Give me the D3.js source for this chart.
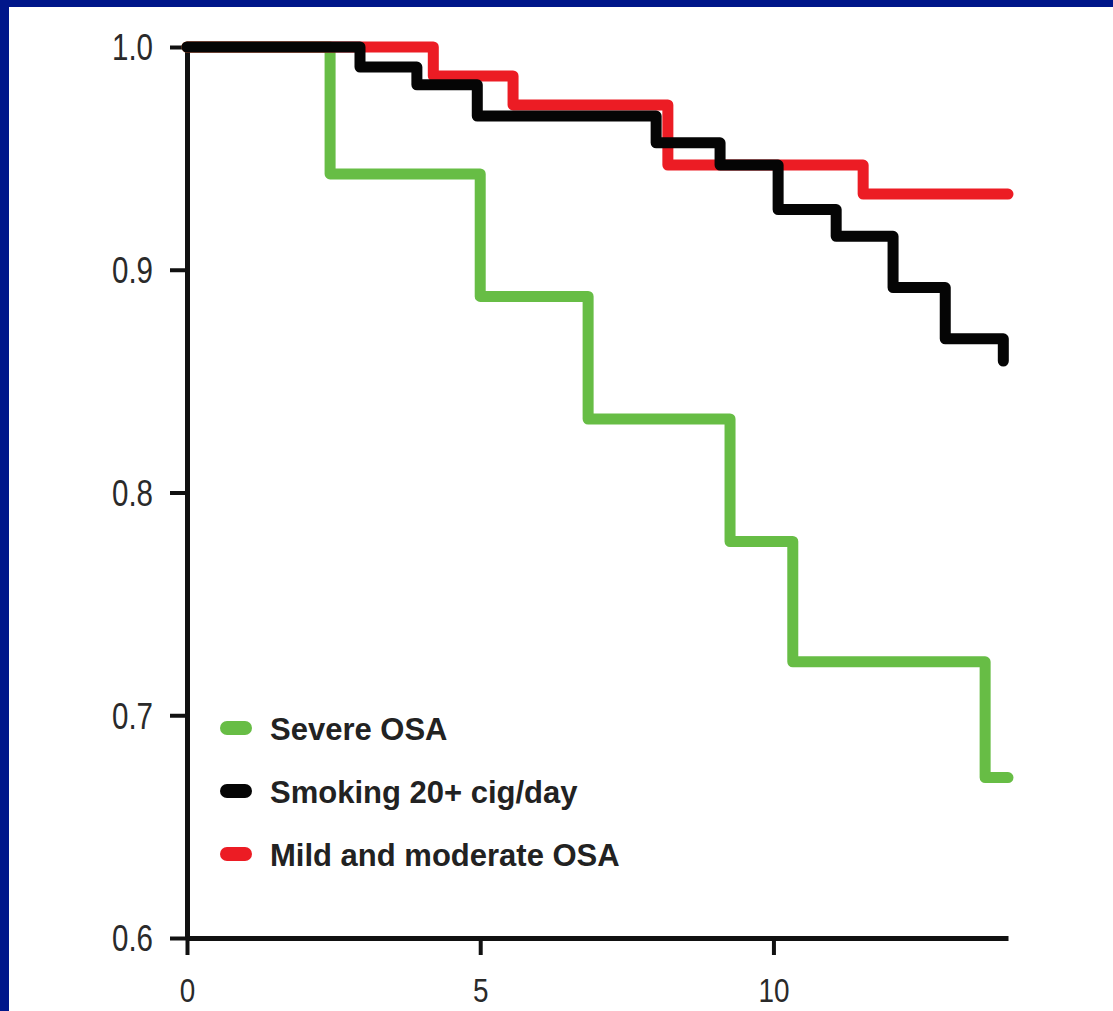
<!DOCTYPE html>
<html>
<head>
<meta charset="utf-8">
<script src="https://cdn.jsdelivr.net/npm/d3@7"></script>
<style>
  html, body { margin: 0; padding: 0; background: #fff; }
  #chart svg { display: block; }
</style>
</head>
<body>
<div id="chart"></div>
<script>
// survival data (years, survival proportion)
const severeTimes = [0, 2.44, 5.0, 6.84, 9.26, 10.33, 13.61, 14.0];
const severeSurv  = [1.0, 0.943, 0.888, 0.833, 0.778, 0.724, 0.672, 0.672];

const smokingTimes = [0, 2.95, 3.92, 4.95, 8.0, 9.09, 10.08, 11.07, 12.04, 12.93, 13.92];
const smokingSurv  = [1.0, 0.991, 0.983, 0.969, 0.957, 0.947, 0.927, 0.915, 0.892, 0.869, 0.859];

const mildTimes = [0, 4.2, 5.56, 8.2, 11.53, 14.0];
const mildSurv  = [1.0, 0.987, 0.974, 0.947, 0.934, 0.934];

const seriesNames = ["Severe OSA", "Smoking 20+ cig/day", "Mild and moderate OSA"];
const seriesColors = ["#67bd45", "#050505", "#ec1c24"];

const xTicks = [0, 5, 10];
const yTicks = [0.6, 0.7, 0.8, 0.9, 1.0];

const W = 1113, H = 1011;

const svg = d3.select("#chart")
  .append("svg")
  .attr("width", W)
  .attr("height", H);

// blue frame (top and left only are visible)
svg.append("rect").attr("x", 0).attr("y", 0).attr("width", W).attr("height", H).attr("fill", "#00168a");
svg.append("rect").attr("x", 9).attr("y", 7).attr("width", W - 9).attr("height", H - 7).attr("fill", "#fff");

const x = d3.scaleLinear().domain([0, 14]).range([187, 1008]);
const y = d3.scaleLinear().domain([0.6, 1.0]).range([938, 47]);

const tickFont = "'Liberation Sans', Arial, sans-serif";

// axes
const yAxisG = svg.append("g")
  .attr("transform", `translate(${x(0)},0)`)
  .call(d3.axisLeft(y).tickValues(yTicks).tickFormat(d3.format(".1f")).tickSize(17).tickSizeOuter(0).tickPadding(17));

const xAxisG = svg.append("g")
  .attr("transform", `translate(0,${y(0.6)})`)
  .call(d3.axisBottom(x).tickValues(xTicks).tickSize(17).tickSizeOuter(0).tickPadding(21));

[yAxisG, xAxisG].forEach(a => {
  a.select(".domain").attr("stroke", "#111").attr("stroke-width", 5);
  a.selectAll(".tick line").attr("stroke", "#111").attr("stroke-width", 4);
  a.selectAll(".tick text")
    .attr("fill", "#2a2a2a")
    .style("font-family", tickFont);
});
yAxisG.selectAll(".tick text").style("font-size", "36px").attr("dy", "0.36em");
xAxisG.selectAll(".tick text").style("font-size", "34px").attr("dy", "0.76em");

// squeeze tick labels to look like a narrow face
svg.selectAll(".tick text").each(function () {
  const w = this.getComputedTextLength();
  d3.select(this)
    .attr("textLength", w * 0.82)
    .attr("lengthAdjust", "spacingAndGlyphs");
});

// step curves
const line = d3.line()
  .x(d => x(d[0]))
  .y(d => y(d[1]))
  .curve(d3.curveStepAfter);

const series = [
  { name: seriesNames[0], color: seriesColors[0], pts: d3.zip(severeTimes, severeSurv) },
  { name: seriesNames[2], color: seriesColors[2], pts: d3.zip(mildTimes, mildSurv) },
  { name: seriesNames[1], color: seriesColors[1], pts: d3.zip(smokingTimes, smokingSurv) }
];

svg.append("g")
  .selectAll("path")
  .data(series)
  .join("path")
  .attr("d", d => line(d.pts))
  .attr("fill", "none")
  .attr("stroke", d => d.color)
  .attr("stroke-width", 11)
  .attr("stroke-linejoin", "round")
  .attr("stroke-linecap", "round");

// legend
const legend = svg.append("g").attr("transform", "translate(220,728)");
const rowGap = 63;

legend.selectAll("rect")
  .data(seriesNames)
  .join("rect")
  .attr("x", 0)
  .attr("y", (d, i) => i * rowGap - 7)
  .attr("width", 32)
  .attr("height", 14)
  .attr("rx", 7)
  .attr("fill", (d, i) => seriesColors[i]);

legend.selectAll("text")
  .data(seriesNames)
  .join("text")
  .attr("x", 50)
  .attr("y", (d, i) => i * rowGap + 12)
  .attr("fill", "#222")
  .style("font-family", "'Liberation Sans', Arial, sans-serif")
  .style("font-weight", "bold")
  .style("font-size", "31px")
  .text(d => d);
</script>
</body>
</html>
